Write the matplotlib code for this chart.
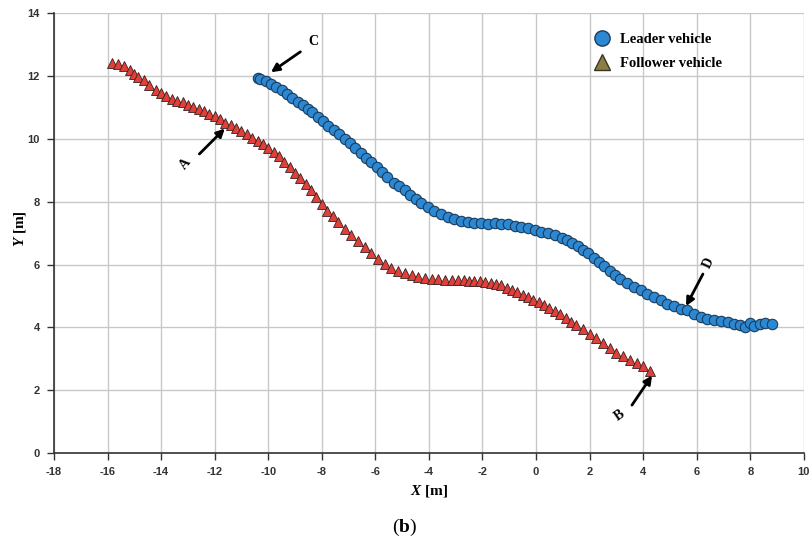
import matplotlib
matplotlib.use("Agg")
import matplotlib.pyplot as plt
from matplotlib.lines import Line2D

# ----------------------------------------------------
# 1. DATA
# ----------------------------------------------------
leader_x = [-10.40, -10.30, -10.10, -9.90, -9.70, -9.50, -9.30, -9.10, -8.90, -8.70,
            -8.50, -8.35, -8.15, -7.95, -7.75, -7.55, -7.35, -7.15, -6.95, -6.75,
            -6.55, -6.35, -6.15, -5.95, -5.75, -5.55, -5.30, -5.10, -4.90, -4.70,
            -4.50, -4.30, -4.05, -3.80, -3.55, -3.30, -3.05, -2.80, -2.55, -2.30,
            -2.05, -1.80, -1.55, -1.30, -1.05, -0.80, -0.55, -0.30, -0.05, 0.20,
            0.45, 0.70, 0.95, 1.15, 1.35, 1.55, 1.75, 1.95, 2.15, 2.35,
            2.55, 2.75, 2.95, 3.15, 3.40, 3.65, 3.90, 4.15, 4.40, 4.65,
            4.90, 5.15, 5.40, 5.65, 5.90, 6.15, 6.40, 6.65, 6.90, 7.15,
            7.40, 7.60, 7.80, 8.00, 8.15, 8.35, 8.55, 8.80]
leader_y = [11.95, 11.90, 11.83, 11.74, 11.65, 11.55, 11.43, 11.30, 11.18, 11.07,
            10.95, 10.85, 10.70, 10.56, 10.42, 10.28, 10.14, 10.00, 9.86, 9.70,
            9.54, 9.40, 9.26, 9.11, 8.95, 8.78, 8.60, 8.50, 8.37, 8.22,
            8.08, 7.96, 7.82, 7.72, 7.62, 7.52, 7.45, 7.40, 7.36, 7.33,
            7.31, 7.30, 7.31, 7.30, 7.28, 7.24, 7.20, 7.16, 7.10, 7.05,
            7.00, 6.94, 6.85, 6.78, 6.70, 6.60, 6.48, 6.36, 6.20, 6.07,
            5.95, 5.80, 5.66, 5.55, 5.42, 5.30, 5.18, 5.06, 4.96, 4.86,
            4.76, 4.68, 4.60, 4.55, 4.44, 4.34, 4.28, 4.24, 4.20, 4.16,
            4.12, 4.08, 4.02, 4.14, 4.04, 4.10, 4.13, 4.10]

follower_x = [-15.85, -15.60, -15.40, -15.15, -15.00, -14.85, -14.65, -14.45, -14.20, -14.00,
              -13.80, -13.60, -13.40, -13.20, -13.00, -12.80, -12.60, -12.40, -12.20, -12.00,
              -11.80, -11.60, -11.40, -11.20, -11.00, -10.80, -10.60, -10.40, -10.20, -10.00,
              -9.80, -9.60, -9.40, -9.20, -9.00, -8.80, -8.60, -8.40, -8.20, -8.00,
              -7.80, -7.60, -7.40, -7.15, -6.90, -6.65, -6.40, -6.15, -5.90, -5.65,
              -5.40, -5.15, -4.90, -4.65, -4.40, -4.15, -3.90, -3.65, -3.40, -3.15,
              -2.90, -2.70, -2.50, -2.30, -2.10, -1.90, -1.70, -1.50, -1.30, -1.10,
              -0.90, -0.70, -0.50, -0.30, -0.10, 0.10, 0.30, 0.50, 0.70, 0.90,
              1.10, 1.30, 1.50, 1.75, 2.00, 2.25, 2.50, 2.75, 3.00, 3.25,
              3.50, 3.75, 4.00, 4.25]
follower_y = [12.42, 12.38, 12.33, 12.18, 12.05, 11.98, 11.86, 11.72, 11.56, 11.46,
              11.36, 11.28, 11.22, 11.16, 11.08, 11.02, 10.95, 10.88, 10.80, 10.72,
              10.62, 10.52, 10.44, 10.36, 10.26, 10.15, 10.04, 9.94, 9.84, 9.72,
              9.58, 9.44, 9.28, 9.12, 8.92, 8.74, 8.56, 8.36, 8.16, 7.94,
              7.72, 7.54, 7.36, 7.14, 6.94, 6.76, 6.56, 6.36, 6.18, 6.02,
              5.88, 5.80, 5.72, 5.66, 5.62, 5.58, 5.55, 5.53, 5.52, 5.50,
              5.50, 5.50, 5.49, 5.49, 5.48, 5.46, 5.43, 5.39, 5.34, 5.27,
              5.20, 5.12, 5.04, 4.96, 4.88, 4.80, 4.72, 4.62, 4.52, 4.42,
              4.30, 4.18, 4.08, 3.94, 3.80, 3.65, 3.50, 3.35, 3.20, 3.08,
              2.96, 2.86, 2.76, 2.60]

# annotation letters: (label, text pos, arrow tail, arrow head, rotation)
notes = [
    ("C", (-8.30, 13.10), (-8.80, 12.77), (-9.90, 12.12), 0),
    ("A", (-13.10, 9.20), (-12.57, 9.52), (-11.62, 10.33), 50),
    ("B", (3.12, 1.20), (3.58, 1.53), (4.33, 2.47), 35),
    ("D", (6.45, 6.05), (6.23, 5.70), (5.60, 4.68), 65),
]

x_ticks = list(range(-18, 11, 2))
y_ticks = list(range(0, 15, 2))

# ----------------------------------------------------
# 2. FONTS
# ----------------------------------------------------
plt.rcParams["mathtext.fontset"] = "custom"
plt.rcParams["mathtext.rm"] = "Liberation Serif:bold"
plt.rcParams["mathtext.it"] = "Liberation Serif:italic:bold"
plt.rcParams["mathtext.bf"] = "Liberation Serif:bold"
plt.rcParams["axes.unicode_minus"] = False
tick_font = ["Liberation Sans Narrow", "Liberation Sans", "DejaVu Sans"]

# ----------------------------------------------------
# 3. PLOT
# ----------------------------------------------------
fig = plt.figure(figsize=(8.09, 5.48), dpi=100)
ax = fig.add_axes([0.0667, 0.173, 0.927, 0.803])

ax.plot(leader_x, leader_y, linestyle="none", marker="o", markersize=7.5,
        markerfacecolor="#2c88d2", markeredgecolor="#1b3c5c", markeredgewidth=0.8,
        zorder=3)
ax.plot(follower_x, follower_y, linestyle="none", marker="^", markersize=7.5,
        markerfacecolor="#e0403a", markeredgecolor="#3a2020", markeredgewidth=0.6,
        zorder=3)

for label, txt, tail, head, rot in notes:
    ax.annotate("", xy=head, xytext=tail,
                arrowprops=dict(arrowstyle="-|>", color="black", lw=2,
                                mutation_scale=12, shrinkA=0, shrinkB=0),
                zorder=4)
    ax.text(txt[0], txt[1], label, family="Liberation Serif", weight="bold",
            fontsize=10, rotation=rot, ha="center", va="center", zorder=4)

ax.set_xlim(-18, 10)
ax.set_ylim(0, 14)
ax.set_xticks(x_ticks)
ax.set_yticks(y_ticks)
ax.grid(True, color="#c8c8c8", linewidth=1)
ax.set_axisbelow(True)
for side in ["top", "right"]:
    ax.spines[side].set_visible(False)
for side in ["left", "bottom"]:
    ax.spines[side].set_color("#333333")
    ax.spines[side].set_linewidth(1.2)
ax.tick_params(direction="out", length=5, width=1, color="#333333",
               labelsize=8, pad=5)
for lab in ax.get_xticklabels() + ax.get_yticklabels():
    lab.set_family(tick_font)
    lab.set_weight("bold")
    lab.set_color("#333333")

ax.set_xlabel(r"$X$ [m]", family="Liberation Serif", weight="bold", fontsize=11,
              labelpad=4)
ax.set_ylabel(r"$Y$ [m]", family="Liberation Serif", weight="bold", fontsize=11)
ax.yaxis.set_label_coords(-0.034, 0.51)

handles = [
    Line2D([], [], linestyle="none", marker="o", markersize=11,
           markerfacecolor="#2c88d2", markeredgecolor="#1b3c5c", markeredgewidth=1),
    Line2D([], [], linestyle="none", marker="^", markersize=11,
           markerfacecolor="#8b7d45", markeredgecolor="#3a3520", markeredgewidth=1),
]
leg = ax.legend(handles, ["Leader vehicle", "Follower vehicle"], loc="upper left",
                bbox_to_anchor=(0.702, 0.985), frameon=False, handlelength=1.2,
                handletextpad=0.6, labelspacing=0.75,
                prop=dict(family="Liberation Serif", weight="bold", size=10.5))

fig.text(0.5, 0.038, r"($\mathbf{b}$)", family="Liberation Serif", fontsize=14,
         ha="center", va="center")

fig.savefig("out.png", dpi=100)
plt.close(fig)
